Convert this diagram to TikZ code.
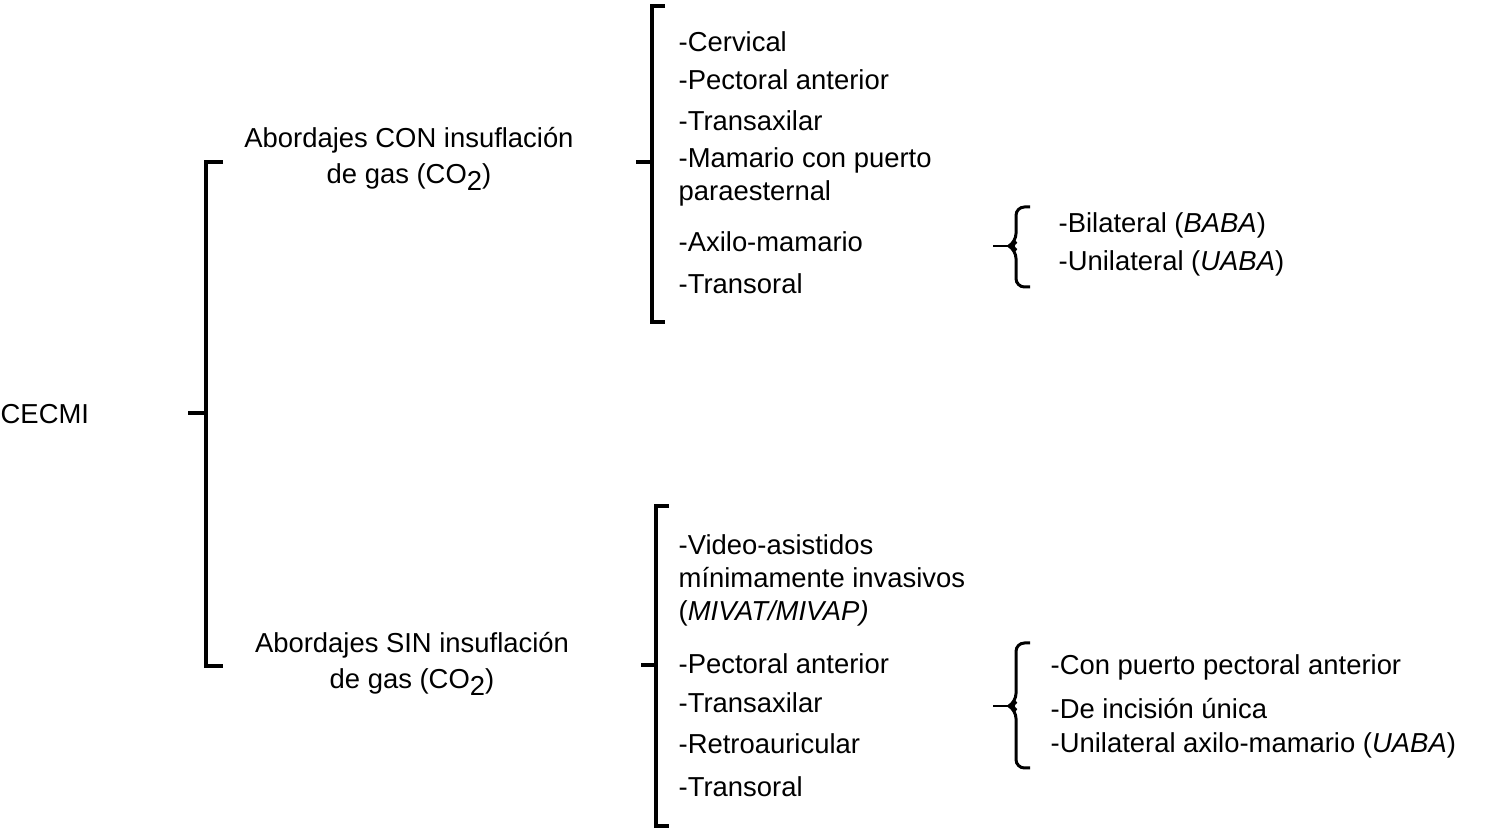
\documentclass[tikz,border=0pt]{standalone}
\usepackage{fontspec}
\setmainfont{Liberation Sans}
\usetikzlibrary{positioning}
\tikzset{
    %Define style for list entries
    item/.style={
           anchor=west,
           inner sep=0pt,
           font=\fontsize{7.8}{9.4}\selectfont},
    head/.style={
           align=center,
           inner sep=0pt,
           font=\fontsize{7.8}{10.2}\selectfont},
    % Define bracket styles
    brack/.style={
           draw=black,
           line width=0.9pt},
    brace/.style={
           draw=black,
           line width=0.85pt,
           rounded corners=2.4pt}
}
\newcommand{\cosub}{CO\raisebox{-0.55ex}{2}}

\begin{document}
\begin{tikzpicture}[x=1cm,y=1cm]
\useasboundingbox (0,0) rectangle (15.04,8.29);

 %nodes
\node[item](root) at (0,4.15){CECMI};
\node[head](con) at (4.09,6.70){Abordajes CON insuflación\\de gas (\cosub)};
\node[head](sin) at (4.12,1.65){Abordajes SIN insuflación\\de gas (\cosub)};

 %upper list
\node[item](c1) at (6.78,7.87){-Cervical};
\node[item](c2) at (6.78,7.49){-Pectoral anterior};
\node[item](c3) at (6.78,7.08){-Transaxilar};
\node[item, align=left](c4) at (6.78,6.52){-Mamario con puerto\\paraesternal};
\node[item](c5) at (6.78,5.87){-Axilo-mamario};
\node[item](c6) at (6.78,5.45){-Transoral};
\node[item](b1) at (10.58,6.04){-Bilateral (\textit{BABA})};
\node[item](b2) at (10.58,5.66){-Unilateral (\textit{UABA})};

 %lower list
\node[item, align=left](s1) at (6.78,2.49){-Video-asistidos\\mínimamente invasivos\\(\textit{MIVAT/MIVAP)}};
\node[item](s2) at (6.78,1.65){-Pectoral anterior};
\node[item](s3) at (6.78,1.26){-Transaxilar};
\node[item](s4) at (6.78,0.85){-Retroauricular};
\node[item](s5) at (6.78,0.42){-Transoral};
\node[item](p1) at (10.50,1.62){-Con puerto pectoral anterior};
\node[item](p2) at (10.50,1.20){-De incisión única};
\node[item](p3) at (10.50,0.84){-Unilateral axilo-mamario (\textit{UABA})};

 %brackets
\coordinate (rt) at (1.88,4.16);
\draw[brack] (2.23,6.67) -- (2.06,6.67) -- (2.06,1.63) -- (2.23,1.63);
\draw[brack, line width=1.2pt] (rt) -- (2.06,4.16);

\coordinate (ct) at (6.36,6.67);
\draw[brack] (6.65,8.23) -- (6.52,8.23) -- (6.52,5.07) -- (6.65,5.07);
\draw[brack, line width=1.3pt] (ct) -- (6.52,6.67);

\coordinate (st) at (6.41,1.64);
\draw[brack] (6.69,3.23) -- (6.56,3.23) -- (6.56,0.03) -- (6.69,0.03);
\draw[brack, line width=1.1pt] (st) -- (6.56,1.64);

\coordinate (bt) at (9.93,5.83);
\draw[brace] (10.30,6.22) -- (10.16,6.22) -- (10.16,5.87) -- (10.09,5.83)
    -- (10.16,5.79) -- (10.16,5.42) -- (10.30,5.42);
\draw[brack, line width=0.8pt] (bt) -- (10.10,5.83);

\coordinate (pt) at (9.93,1.23);
\draw[brace] (10.30,1.86) -- (10.16,1.86) -- (10.16,1.27) -- (10.09,1.23)
    -- (10.16,1.19) -- (10.16,0.61) -- (10.30,0.61);
\draw[brack, line width=0.8pt] (pt) -- (10.10,1.23);
\end{tikzpicture}
\end{document}
